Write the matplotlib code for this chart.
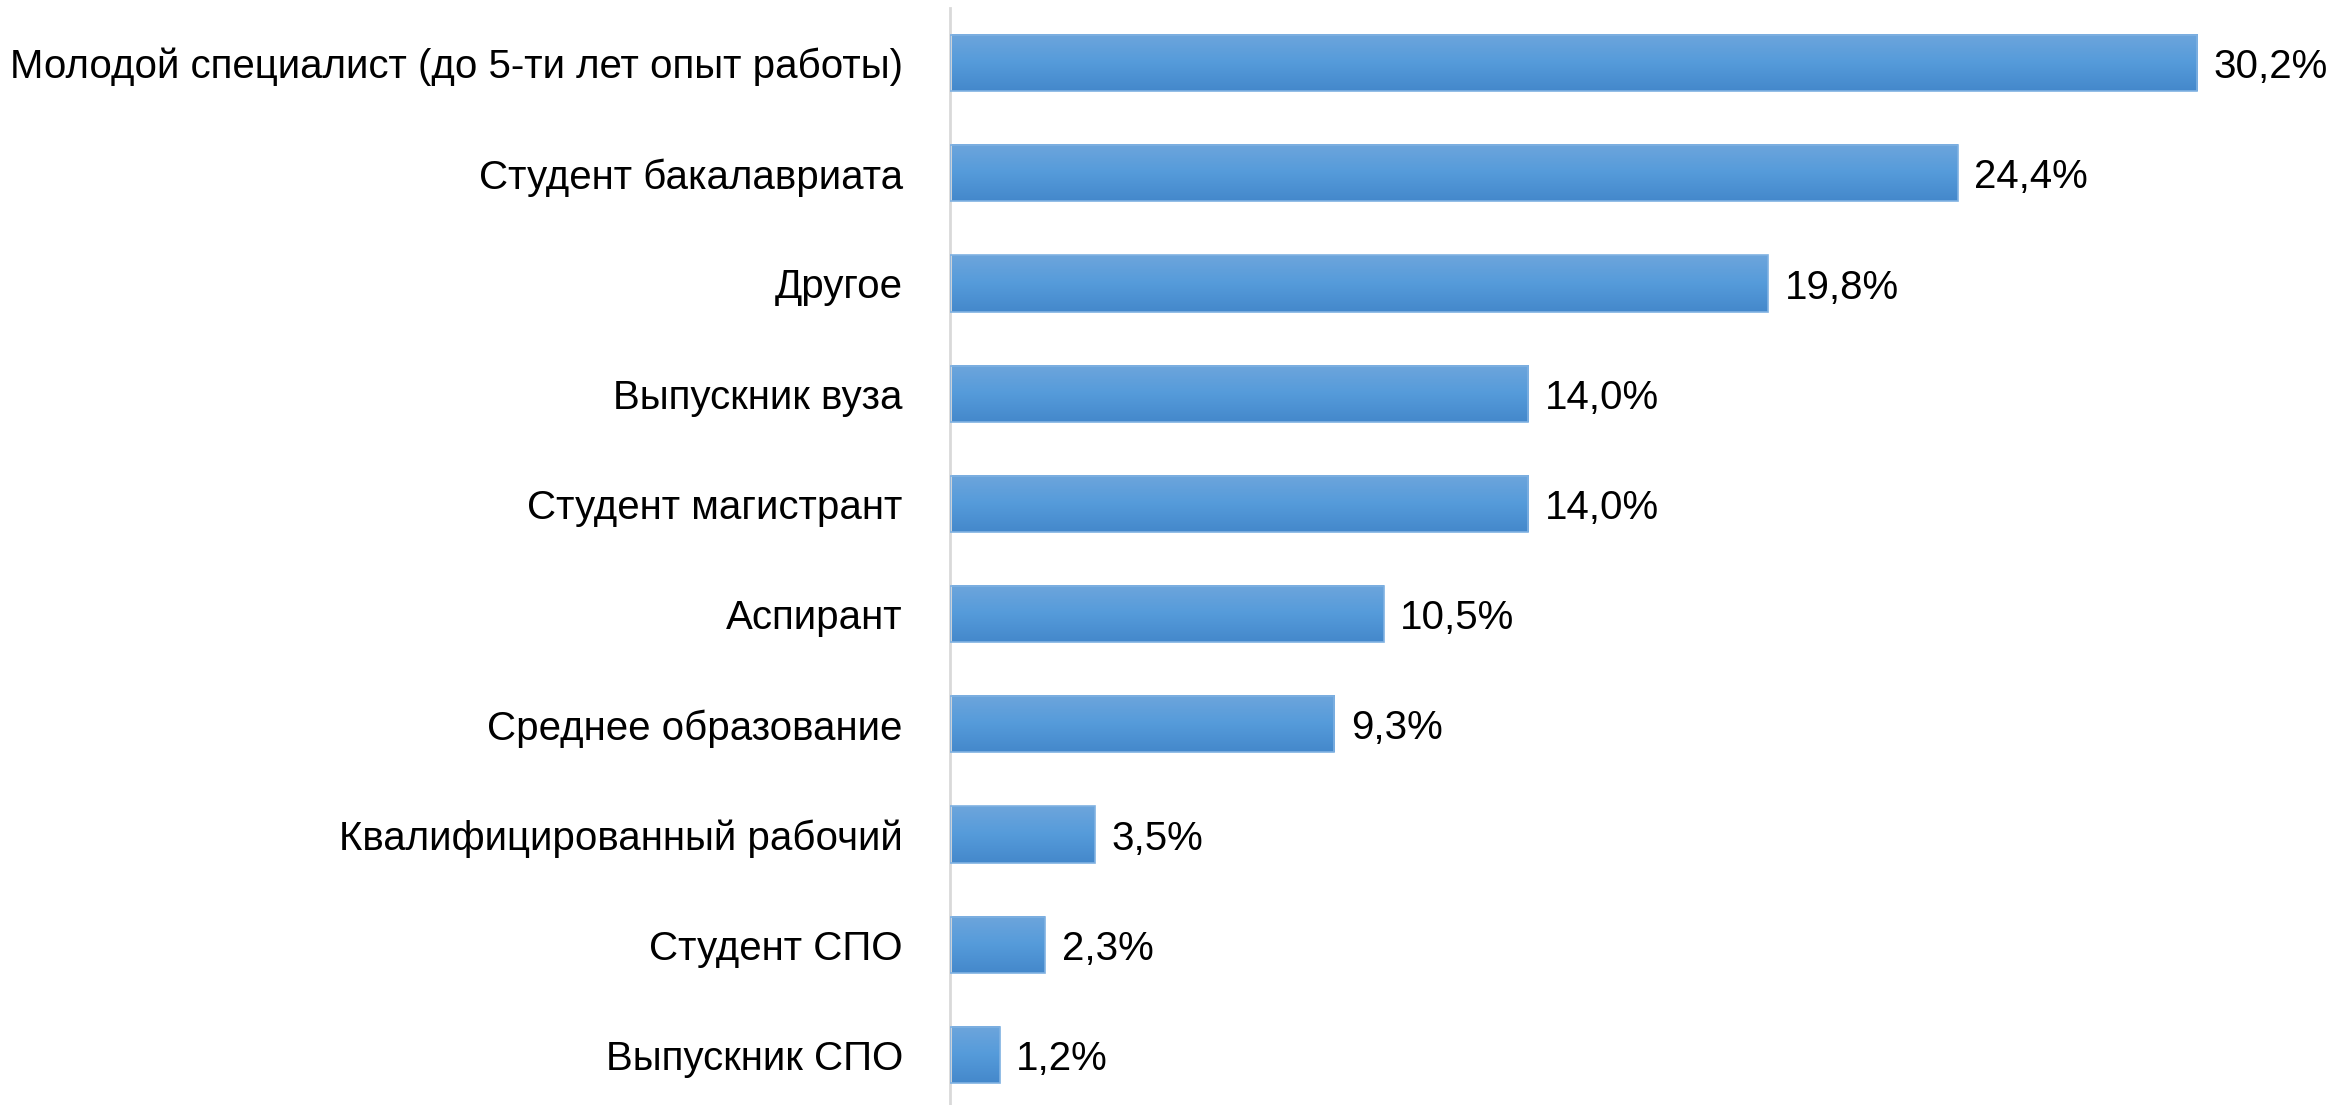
import matplotlib
matplotlib.use("Agg")
import matplotlib.pyplot as plt
import numpy as np
from matplotlib.colors import LinearSegmentedColormap

categories = [
    "Молодой специалист (до 5-ти лет опыт работы)",
    "Студент бакалавриата",
    "Другое",
    "Выпускник вуза",
    "Студент магистрант",
    "Аспирант",
    "Среднее образование",
    "Квалифицированный рабочий",
    "Студент СПО",
    "Выпускник СПО",
]
values = [30.2, 24.4, 19.8, 14.0, 14.0, 10.5, 9.3, 3.5, 2.3, 1.2]

plt.rcParams['font.family'] = ['Liberation Sans', 'DejaVu Sans']

W, H = 2351, 1105
fig = plt.figure(figsize=(W / 100, H / 100), dpi=100)
ax_left = 950 / W
ax_top = 8 / H
ax_h = 1102 / H
ax = fig.add_axes([ax_left, 1 - ax_top - ax_h, 1 - ax_left, ax_h])

y = np.arange(len(categories))
bars = ax.barh(y, values, height=0.51, color='none', edgecolor='#7FB1E2', linewidth=1.2, zorder=3)

cmap = LinearSegmentedColormap.from_list('g', ['#6DA5DC', '#559BDA', '#4488CB'])
grad = np.linspace(0, 1, 256).reshape(-1, 1)
for p in bars.patches:
    x0, y0, w, h = p.get_x(), p.get_y(), p.get_width(), p.get_height()
    ax.imshow(grad, cmap=cmap, aspect='auto', extent=[x0, x0 + w, y0 + h, y0],
              origin='upper', zorder=2, interpolation='bilinear')

for p, v in zip(bars.patches, values):
    ax.annotate(f"{v:.1f}%".replace('.', ','),
                (p.get_x() + p.get_width(), p.get_y() + p.get_height() / 2),
                xytext=(12, -3), textcoords='offset points',
                va='center', ha='left', fontsize=29, color='black')

ax.set_xlim(0, 1401 / 41.3)
ax.set_ylim(len(categories) - 0.5, -0.5)
ax.set_yticks(y)
ax.set_yticklabels(categories, fontsize=29)
ax.tick_params(axis='y', length=0, pad=34)
ax.set_xticks([])
for s in ['top', 'right', 'bottom']:
    ax.spines[s].set_visible(False)
ax.spines['left'].set_color('#D9D9D9')
ax.spines['left'].set_linewidth(2)

fig.savefig('out.png', dpi=100)
